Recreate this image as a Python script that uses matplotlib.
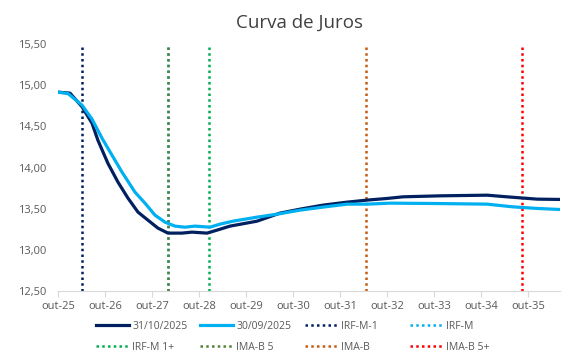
import matplotlib
matplotlib.use('Agg')
import matplotlib.pyplot as plt
import numpy as np

plt.rcParams['font.family'] = ['Open Sans', 'DejaVu Sans']

# anos a partir de out-25
t_out = [0, 0.255, 0.511, 0.723, 0.851, 1.064, 1.277, 1.489, 1.702, 1.915, 2.128, 2.34,
         2.638, 2.851, 3.17, 3.383, 3.66, 4.234, 4.723, 5.149, 5.638, 6.149, 6.574,
         7.0, 7.34, 8.13, 9.13, 9.55, 10.19, 10.68]
taxa_out = [14.917, 14.905, 14.74, 14.54, 14.33, 14.05, 13.823, 13.629, 13.459, 13.361,
            13.264, 13.204, 13.204, 13.216, 13.204, 13.24, 13.289, 13.349, 13.447, 13.495,
            13.544, 13.58, 13.605, 13.625, 13.645, 13.657, 13.665, 13.645, 13.617, 13.613]

t_set = [0, 0.213, 0.511, 0.723, 0.936, 1.149, 1.362, 1.638, 1.851, 2.064, 2.277, 2.489,
         2.702, 2.915, 3.234, 3.447, 3.723, 4.234, 4.66, 5.149, 5.638, 6.149, 6.574,
         7.064, 7.98, 9.13, 9.68, 10.19, 10.68]
taxa_set = [14.917, 14.9, 14.759, 14.59, 14.358, 14.151, 13.945, 13.702, 13.568, 13.422,
            13.337, 13.289, 13.276, 13.289, 13.276, 13.313, 13.349, 13.398, 13.434, 13.483,
            13.52, 13.556, 13.556, 13.568, 13.564, 13.556, 13.523, 13.504, 13.491]

indices = ['IRF-M-1', 'IRF-M', 'IRF-M 1+', 'IMA-B 5', 'IMA-B', 'IMA-B 5+']
duration = [0.51, 2.34, 3.21, 2.34, 6.55, 9.87]
cores = ['#002060', '#00B0F0', '#00B050', '#548235', '#C55A11', '#FF0000']

ticks = list(range(11))
tick_labels = ['out-%d' % (25 + i) for i in ticks]

fig = plt.figure(figsize=(5.81, 3.62), dpi=100)
ax = fig.add_axes([0.0998, 0.196, 0.864, 0.682])

l1, = ax.plot(t_out, taxa_out, color='#002060', lw=2.3, label='31/10/2025', zorder=3,
              solid_joinstyle='round')
l2, = ax.plot(t_set, taxa_set, color='#00B0F0', lw=2.3, label='30/09/2025', zorder=3,
              solid_joinstyle='round')

vl = []
for nome, d, c in zip(indices, duration, cores):
    h = ax.axvline(d, color=c, lw=1.8, linestyle=(0, (1, 1.3)), label=nome, zorder=2)
    vl.append(h)

ax.set_xlim(0, 10.68)
ax.set_ylim(12.5, 15.5)
ax.set_yticks(np.arange(12.5, 15.51, 0.5))
ax.set_yticklabels([('%.2f' % v).replace('.', ',') for v in np.arange(12.5, 15.51, 0.5)])
ax.set_xticks(ticks)
ax.set_xticklabels(tick_labels)

for s in ['top', 'right', 'left']:
    ax.spines[s].set_visible(False)
ax.spines['bottom'].set_color('#D9D9D9')
ax.tick_params(axis='y', length=0, labelsize=8, colors='#595959', pad=8)
ax.tick_params(axis='x', length=4, color='#D9D9D9', labelsize=8, labelcolor='#595959')

fig.text(0.516, 0.937, 'Curva de Juros', ha='center', va='center', fontsize=13.5,
         color='#404040')

# legenda: 4 colunas de largura fixa como no Excel
hs = [l1, l2] + vl
col_x = [96, 200, 305, 410]
for j, x in enumerate(col_x):
    leg = fig.legend([hs[j], hs[j + 4]], [hs[j].get_label(), hs[j + 4].get_label()],
                     loc='upper left', bbox_to_anchor=(x / 581, 1 - 321 / 362),
                     frameon=False, fontsize=7.5, labelcolor='#595959', handlelength=3.2,
                     handletextpad=0.3, labelspacing=0.95, borderpad=0, borderaxespad=0)

fig.savefig('out.png', dpi=100)
